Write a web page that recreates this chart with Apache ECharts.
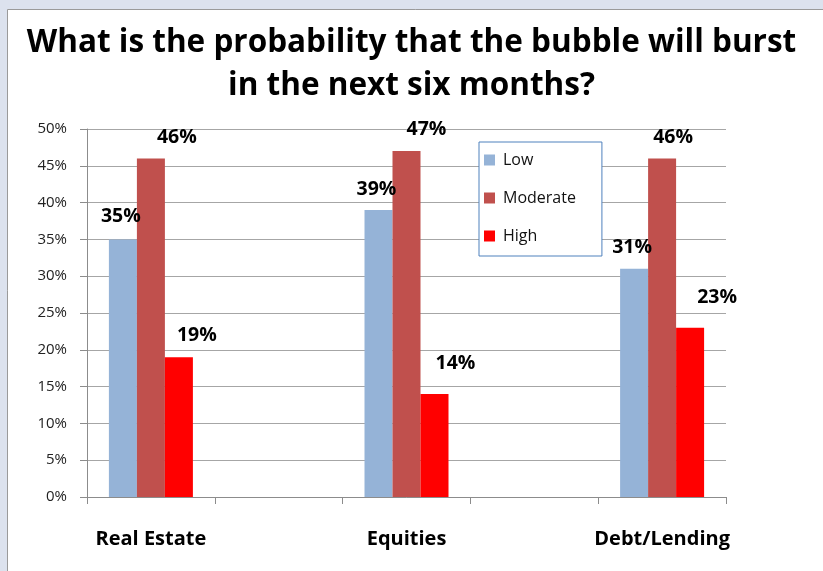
<!DOCTYPE html>
<html>
<head>
<meta charset="utf-8">
<title>Bubble burst probability</title>
<script src="https://cdn.jsdelivr.net/npm/echarts@6/dist/echarts.min.js"></script>
<style>
  html, body { margin: 0; padding: 0; background: #dce2ee; }
  #chart { width: 823px; height: 571px; }
</style>
</head>
<body>
<div id="chart"></div>
<script>
// Asset classes; the blank slots keep the wide spacing between groups
const categories = ['Real Estate', '', 'Equities', '', 'Debt/Lending'];
const seriesNames = ['Low', 'Moderate', 'High'];
const lowValues = [35, null, 39, null, 31];
const moderateValues = [46, null, 47, null, 46];
const highValues = [19, null, 14, null, 23];
const yTicks = [0, 5, 10, 15, 20, 25, 30, 35, 40, 45, 50];

// Label nudges [dx, dy] per series and category
const labelNudges = [
  [[-2, -1], null, [-2, 1], null, [-2, 1]],
  [[26, 1], null, [20, 0], null, [11, 1]],
  [[18, 0], null, [21, -9], null, [27, -8]]
];
const colors = ['#95b3d7', '#c0504d', '#ff0000'];

const chart = echarts.init(document.getElementById('chart'), null, { renderer: 'canvas' });
const font = '"Open Sans", "Liberation Sans", sans-serif';

function buildSeries(idx, values) {
  return {
    name: seriesNames[idx],
    type: 'bar',
    barWidth: 28,
    barGap: '0%',
    itemStyle: { color: colors[idx] },
    data: values.map((v, i) => {
      if (v === null) return null;
      const n = labelNudges[idx][i] || [0, 0];
      return { value: v, label: { offset: n } };
    }),
    label: {
      show: true,
      position: 'top',
      distance: 12,
      formatter: p => p.value + '%',
      fontFamily: font,
      fontWeight: 'bold',
      fontSize: 19.5,
      color: '#000'
    }
  };
}

chart.setOption({
  backgroundColor: '#dce2ee',
  animation: false,
  graphic: [{
    type: 'rect',
    z: -10,
    shape: { x: 7.5, y: 9.5, width: 830, height: 580 },
    style: { fill: '#ffffff', stroke: '#9a9a9a', lineWidth: 1 }
  }],
  title: {
    text: 'What is the probability that the bubble will burst\nin the next six months?',
    left: 'center',
    top: 17,
    textStyle: {
      fontFamily: font,
      fontWeight: 'bold',
      fontSize: 31.5,
      lineHeight: 43,
      color: '#000'
    }
  },
  legend: {
    orient: 'vertical',
    left: 479,
    top: 142,
    data: seriesNames,
    icon: 'rect',
    itemWidth: 11,
    itemHeight: 11,
    itemGap: 22,
    padding: [10, 26, 12, 5],
    backgroundColor: '#fff',
    borderColor: '#4f81bd',
    borderWidth: 1,
    textStyle: { fontFamily: font, fontSize: 16, color: '#111', padding: [0, 0, 0, 3] }
  },
  grid: { left: 87, right: 97, top: 129, bottom: 74, containLabel: false },
  xAxis: {
    type: 'category',
    data: categories,
    axisLine: { lineStyle: { color: '#8c8c8c', width: 1 } },
    axisTick: { show: true, interval: 0, length: 7, lineStyle: { color: '#8c8c8c' } },
    axisLabel: {
      interval: 0,
      margin: 32,
      fontFamily: font,
      fontWeight: 'bold',
      fontSize: 20,
      color: '#000'
    }
  },
  yAxis: {
    type: 'value',
    min: yTicks[0],
    max: yTicks[yTicks.length - 1],
    interval: yTicks[1] - yTicks[0],
    axisLine: { show: true, lineStyle: { color: '#8c8c8c' } },
    axisTick: { show: true, length: 7, lineStyle: { color: '#8c8c8c' } },
    splitLine: { lineStyle: { color: '#a6a6a6', width: 1 } },
    axisLabel: {
      margin: 20,
      formatter: v => v + '%',
      fontFamily: font,
      fontSize: 15,
      color: '#222'
    }
  },
  series: [
    buildSeries(0, lowValues),
    buildSeries(1, moderateValues),
    buildSeries(2, highValues)
  ]
});
</script>
</body>
</html>
